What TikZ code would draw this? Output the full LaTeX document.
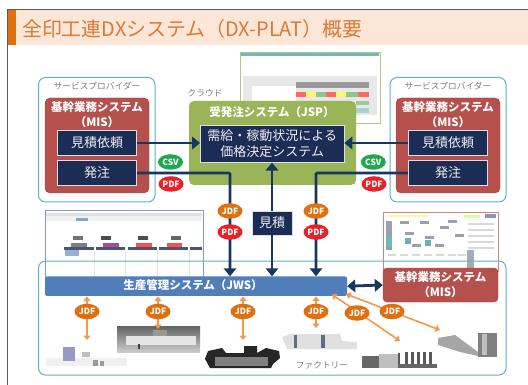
\documentclass[tikz,border=0pt]{standalone}
\usepackage{fontspec}
\setmainfont{Noto Sans CJK JP}
\usetikzlibrary{arrows.meta,shapes.geometric}
\definecolor{navy}{HTML}{1B2C55}
\definecolor{arrownavy}{HTML}{17375E}
\definecolor{misred}{HTML}{B5504C}
\definecolor{jspgreen}{HTML}{9AB558}
\definecolor{frameblue}{HTML}{5FB0C9}
\definecolor{jwsblue}{HTML}{4F7EB8}
\definecolor{jdforange}{HTML}{E0700F}
\definecolor{lightorange}{HTML}{F2994A}
\definecolor{titlebg}{HTML}{FCE6D8}
\definecolor{titlefg}{HTML}{DE7A30}
\definecolor{pdfred}{HTML}{EA2027}
\definecolor{csvgreen}{HTML}{1FA84F}
\definecolor{labelgray}{HTML}{7F7F7F}
\tikzset{
 x=1pt,y=-1pt,
 group/.style={draw=frameblue,line width=1pt,rounded corners=7pt,fill=white},
 redbox/.style={fill=misred,draw=misred!85!black,line width=.4pt,rounded corners=5pt},
 navybox/.style={fill=navy,draw=white!85!navy,line width=.7pt,text=white!92!navy,align=center,inner sep=0pt,font=\fontsize{13}{16}\selectfont},
 redtitle/.style={text=white,align=center,inner sep=0pt,font=\bfseries\fontsize{11.5}{15}\selectfont},
 grouplabel/.style={text=labelgray,inner sep=0pt,font=\fontsize{8.7}{10}\selectfont},
 badge/.style={ellipse,minimum width=25pt,minimum height=15.5pt,inner sep=0pt,text=white,font=\bfseries\fontsize{8.5}{10}\selectfont},
 jdfbadge/.style={badge,fill=jdforange},
 pdfbadge/.style={badge,fill=pdfred},
 csvbadge/.style={badge,fill=csvgreen},
 navyarrow/.style={draw=arrownavy,line width=2.8pt,-{Triangle[length=8pt,width=12.5pt]}},
 navytwo/.style={draw=arrownavy,line width=2.8pt,{Triangle[length=8pt,width=12.5pt]}-{Triangle[length=8pt,width=12.5pt]}},
 orangetwo/.style={draw=lightorange,line width=1.6pt,{Triangle[length=4.5pt,width=7pt]}-{Triangle[length=4.5pt,width=7pt]}},
 shot/.style={fill=white,line width=.9pt},
}
\begin{document}
\begin{tikzpicture}
\useasboundingbox (0,0) rectangle (528,385);
\fill[white] (0,0) rectangle (528,385);
% slide frame and title
\fill[titlebg] (8,10) rectangle (528,45);
\fill[jdforange] (8,10) rectangle (16,45);
\draw[draw=black!65,line width=.9pt] (528,9.3) -- (7.8,9.3) -- (7.8,385);
\node[anchor=west,inner sep=0pt,text=titlefg,font=\fontsize{19.9}{22}\selectfont] (title) at (22,29) {全印工連DXシステム（DX-PLAT）概要};

% JSP screenshot
\node[shot,draw=jspgreen!75,minimum width=140pt,minimum height=71pt,inner sep=0pt] (jspshot) at (310,88) {};
\fill[teal!55] (241,53) rectangle (379,56.5);
\fill[black!9] (243,76) rectangle (377,115);
\fill[white] (252,86) rectangle (296,115);
\fill[black!40] (296,82) rectangle (369,88);
\fill[red!60] (296,92) rectangle (306,97);
\fill[yellow!60] (306,92) rectangle (316,97);
\fill[green!50!black!45] (316,92) rectangle (326,97);
\fill[red!60] (326,92) rectangle (336,97);
\fill[yellow!60] (336,92) rectangle (346,97);
\fill[green!50!black!45] (346,92) rectangle (358,97);
\fill[red!60] (358,92) rectangle (369,97);
\fill[green!50!black!40] (356,101) rectangle (369,105);
\fill[teal!35] (356,108) rectangle (369,113);

% service providers
\draw[group] (38.5,77.5) rectangle (155,202);
\draw[group] (390,77.5) rectangle (506,202);
\node[grouplabel] (spl) at (97,86.5) {サービスプロバイダー};
\node[grouplabel] (spr) at (448,86.5) {サービスプロバイダー};
\node[grouplabel] (cloud) at (205,93.5) {クラウド};
\draw[redbox] (45,98) rectangle (149,193);
\draw[redbox] (396,98) rectangle (500,193);
\node[redtitle] (mistl) at (97,115) {基幹業務システム\\（MIS）};
\node[redtitle] (mistr) at (448,115) {基幹業務システム\\（MIS）};
\node[navybox,minimum width=79.5pt,minimum height=24.5pt] (estl) at (97,143) {見積依頼};
\node[navybox,minimum width=79.5pt,minimum height=24.5pt] (ordl) at (97,173) {発注};
\node[navybox,minimum width=79.5pt,minimum height=24.5pt] (estr) at (448,143) {見積依頼};
\node[navybox,minimum width=79.5pt,minimum height=24.5pt] (ordr) at (448,173) {発注};

% JSP
\fill[jspgreen,rounded corners=5pt] (189,101) rectangle (356,185);
\node[redtitle] (jspt) at (272,112) {受発注システム（JSP）};
\node[navybox,minimum width=143.5pt,minimum height=36.5pt] (price) at (272.2,144) {需給・稼動状況による\\価格決定システム};

% left screenshot
\node[shot,draw=jwsblue!75,minimum width=158pt,minimum height=67pt,inner sep=0pt] (jwsshot) at (124,244) {};
\fill[black!12] (46,213) rectangle (202,216);
\fill[black!6] (46,216) rectangle (202,221);
\fill[jwsblue!70] (76,218) rectangle (88,221);
\foreach \mx/\c in {78/black!55,106/black!70,143/black!70,176/black!60}{
  \fill[\c] (\mx-5,236) rectangle (\mx+5,240);
}
\fill[black!50] (71,243) rectangle (87,247);
\fill[violet!70] (103,243) rectangle (119,247);
\fill[red!70] (136,243) rectangle (152,247);
\fill[red!70] (167,243) rectangle (182,247);
\foreach \a/\b in {64/94,96/125,128/157,159/188,190/202}{\fill[navy!80] (\a,247) rectangle (\b,250);}
\fill[jwsblue!60] (65,250) rectangle (79,256);
\foreach \a in {94,125,157,189}{\draw[black!10,line width=.4pt] (\a,250) -- (\a,277);}

% right screenshot
\node[shot,draw=misred!70,minimum width=115pt,minimum height=59pt,inner sep=0pt] (misshot) at (440.5,241.5) {};
\fill[yellow!40] (386,215) rectangle (428,217.5);
\fill[green!40!yellow!40] (464,215) rectangle (480,218);
\fill[navy!50] (485,214) rectangle (496,218);
\fill[navy!45] (386,221) rectangle (392,250);
\fill[teal!55] (386,236) rectangle (392,247);
\foreach \px/\py in {400/221,420/221,440/226,405/232,425/236,448/220,455/234,412/244,435/244}{\fill[navy!45] (\px,\py) rectangle (\px+9,\py+3);}
\fill[teal!60] (405,238) rectangle (411,244);
\fill[teal!60] (425,240) rectangle (431,246);
\foreach \py in {223,229,235,241,247}{\fill[black!15] (468,\py) rectangle (494,\py+2);}
\fill[navy!40] (467,250) rectangle (474,268);
\foreach \px in {388,400,412,424,436,448,458}{\fill[black!15] (\px,254) rectangle (\px+8,256);}

% factory frame
\draw[draw=frameblue,line width=1pt,rounded corners=7pt] (38.5,261) rectangle (506,375);

% factory machines
\fill[black!6] (46,358) rectangle (127,366);
\fill[black!55!blue!40] (63,347) rectangle (75,361);
\fill[black!25] (82,352) rectangle (90,357);
\fill[black!40] (93,360) rectangle (98,366);
\fill[black!40] (100,361) rectangle (104,366);
\node[minimum width=83pt,minimum height=25.5pt,inner sep=0pt,top color=black!60,bottom color=black!20] (dp) at (158.5,339.5) {};
\fill[black!10] (126,336) rectangle (196,345);
\fill[black!40] (153,330) rectangle (167,336);
\fill[black!75] (138,344) rectangle (140,349);
\fill[black!85] (205,359) -- (208,351) -- (222,348) -- (226,353) -- (244,353) -- (244,346) -- (257,346) -- (257,353) -- (266,348) -- (279,351) -- (280,358) -- (273,364) -- (271,368) -- (210,368) -- cycle;
\fill[black!50] (215,357) rectangle (268,366);
\fill[black!12] (282,337) -- (290,334) -- (340,334) -- (342,341) -- (357,342) -- (357,349) -- (287,349) -- cycle;
\fill[navy!70] (294,335) rectangle (297,348);
\fill[navy!70] (321,335) rectangle (325,348);
\fill[black!60] (362,356) rectangle (388,368);
\fill[black!25] (379,354) rectangle (398,368);
\fill[black!65] (398,353) rectangle (400,367);
\foreach \mx in {405,411,417,423,429}{\fill[black!65] (\mx,352) rectangle (\mx+3,364);}
\fill[black!60] (398,364) rectangle (437,368);
\fill[black!35] (438,338) -- (455,335) -- (478,352) -- (478,356) -- (460,352) -- (438,345) -- cycle;
\fill[black!50] (478,333) rectangle (497,357);
\fill[black!25] (482,334) rectangle (487,355);
\node[grouplabel] (factory) at (322,365.5) {ファクトリー};

% JWS bar
\node[fill=jwsblue,rounded corners=2pt,minimum width=302pt,minimum height=19.5pt,inner sep=0pt] (jws) at (196,286.2) {};
\node[text=white,inner sep=0pt,font=\bfseries\fontsize{11.5}{13}\selectfont] (jwst) at (193,285.5) {生産管理システム（JWS）};

% MIS in factory
\node[fill=misred,draw=misred!85!black,line width=.4pt,rounded corners=4pt,minimum width=115pt,minimum height=34pt,redtitle] (misf) at (440.5,285) {基幹業務システム\\（MIS）};

% quote box
\node[navybox,minimum width=40pt,minimum height=24pt] (quote) at (272,223) {見積};

% navy connectors
\coordinate (bendl) at (230,173);
\coordinate (bendr) at (316,173);
\draw[navyarrow] (estl.east) -- (price.west |- estl.east);
\draw[navyarrow] (estr.west) -- (price.east |- estr.west);
\draw[navyarrow,rounded corners=1pt] (ordl.east) -- (bendl) -- (bendl |- jws.north);
\draw[navyarrow,rounded corners=1pt] (ordr.west) -- (bendr) -- (bendr |- jws.north);
\draw[navyarrow] (quote.north) -- (quote.north |- price.south);
\draw[navyarrow] (quote.south) -- (quote.south |- jws.north);
\draw[navytwo] (jws.east) -- (misf.west);

% orange connectors
\coordinate (m1) at (87,340); \coordinate (m2) at (158,329);
\coordinate (m3) at (243,340); \coordinate (m4) at (316,328);
\coordinate (m5) at (400,341); \coordinate (m6) at (440,330);
\coordinate (j1) at (87,296.5); \coordinate (j2) at (158,296.5);
\coordinate (j3) at (243,296.5); \coordinate (j4) at (316,296.5);
\coordinate (j5) at (332,294.5); \coordinate (j6) at (346,294);
\draw[orangetwo] (j1) -- (m1);
\draw[orangetwo] (j2) -- (m2);
\draw[orangetwo] (j3) -- (m3);
\draw[orangetwo] (j4) -- (m4);
\draw[orangetwo] (j5) -- (m5);
\draw[orangetwo] (j6) -- (m6);

% badges
\node[csvbadge] (csvl) at (170.5,162) {CSV};
\node[pdfbadge] (pdfl) at (171,184) {PDF};
\node[csvbadge] (csvr) at (373.3,162) {CSV};
\node[pdfbadge] (pdfr) at (374,184) {PDF};
\node[jdfbadge] (j1a) at (230,211) {JDF};
\node[pdfbadge] (p1a) at (230,232) {PDF};
\node[jdfbadge] (j1b) at (316,211) {JDF};
\node[pdfbadge] (p1b) at (316,232) {PDF};
\node[jdfbadge] (b1) at (87,311.5) {JDF};
\node[jdfbadge] (b2) at (158,311.5) {JDF};
\node[jdfbadge] (b3) at (243,311.5) {JDF};
\node[jdfbadge] (b4) at (316,311.5) {JDF};
\node[jdfbadge] (b5) at (357,313) {JDF};
\node[jdfbadge] (b6) at (392,311.5) {JDF};
\end{tikzpicture}
\end{document}
